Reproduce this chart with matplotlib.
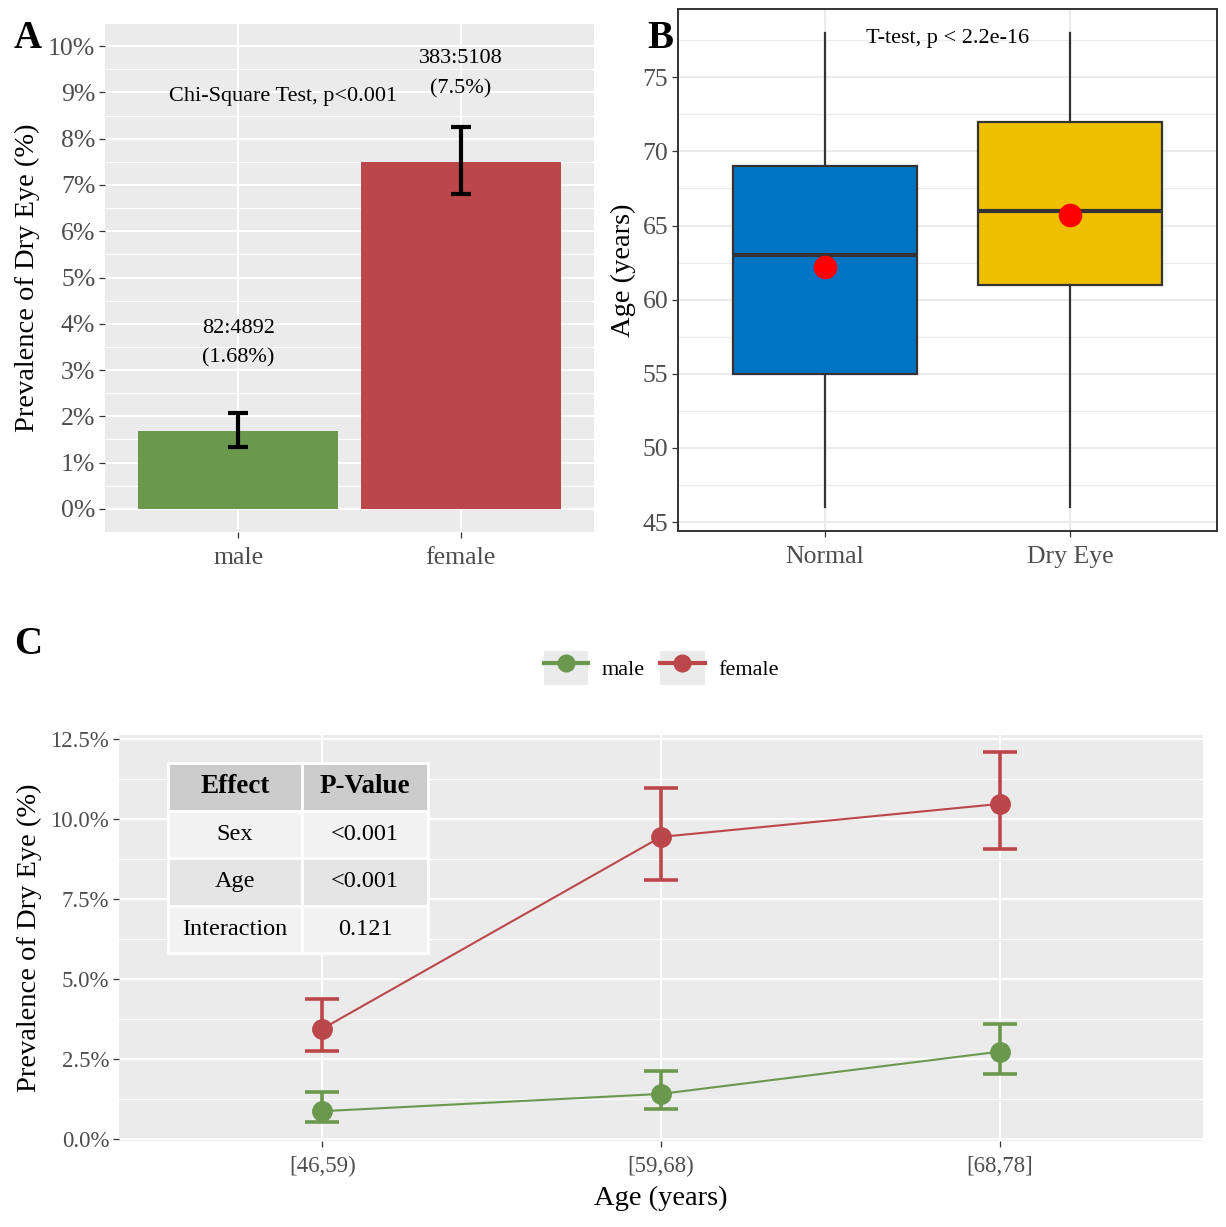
import numpy as np
import matplotlib
matplotlib.use("Agg")
import matplotlib.pyplot as plt
from matplotlib.lines import Line2D
from matplotlib.patches import Rectangle
from matplotlib.legend_handler import HandlerTuple
from matplotlib.ticker import FuncFormatter, MultipleLocator

plt.rcParams["font.family"] = ["Liberation Serif", "DejaVu Serif"]

# --- data -------------------------------------------------------------
# panel A: prevalence by sex
sex = ["male", "female"]
sex_prev = [1.68, 7.5]
sex_lo = [1.34, 6.80]
sex_hi = [2.07, 8.26]
sex_counts = ["82:4892", "383:5108"]
sex_pct = ["(1.68%)", "(7.5%)"]

# panel B: age distribution
groups = ["Normal", "Dry Eye"]
age_q1 = [55, 61]
age_med = [63, 66]
age_q3 = [69, 72]
age_min = [46, 46]
age_max = [78, 78]
age_mean = [62.2, 65.7]

# panel C: prevalence by age group and sex
age_bins = ["[46,59)", "[59,68)", "[68,78]"]
male_prev = [0.87, 1.41, 2.73]
male_lo = [0.52, 0.95, 2.02]
male_hi = [1.47, 2.14, 3.60]
female_prev = [3.44, 9.43, 10.46]
female_lo = [2.74, 8.09, 9.06]
female_hi = [4.37, 10.95, 12.08]

effects = ["Sex", "Age", "Interaction"]
pvalues = ["<0.001", "<0.001", "0.121"]

GREEN = "#6A994E"
RED = "#BC474A"
BLUE = "#0073C2"
YELLOW = "#EFC000"
TICK = "#333333"
TICKLAB = "#4D4D4D"

W, H = 1226, 1227
fig = plt.figure(figsize=(W / 100, H / 100), dpi=100)


def px_axes(left, top, right, bottom):
    return fig.add_axes([left / W, 1 - bottom / H, (right - left) / W, (bottom - top) / H])


def gg_ticks(ax, size):
    ax.tick_params(which="major", direction="out", length=4, width=0.9,
                   color=TICK, labelcolor=TICKLAB, labelsize=size, pad=3)
    ax.tick_params(axis="x", which="major", pad=7)
    ax.tick_params(which="minor", length=0)


def err(vals, lo, hi):
    vals = np.asarray(vals)
    return [vals - np.asarray(lo), np.asarray(hi) - vals]


# --- panel A ----------------------------------------------------------
axA = px_axes(105, 23, 594, 532)
axA.set_facecolor("#EBEBEB")
xa = np.arange(1, len(sex) + 1)
axA.bar(xa, sex_prev, width=0.9, color=[GREEN, RED], zorder=2)
axA.errorbar(xa, sex_prev, yerr=err(sex_prev, sex_lo, sex_hi), fmt="none",
             ecolor="black", elinewidth=3, capsize=7.5, capthick=3, zorder=3)
for x, v, c, p in zip(xa, sex_prev, sex_counts, sex_pct):
    axA.text(x, v + 1.9, f"{c}\n{p}", ha="center", va="center", fontsize=16,
             linespacing=1.75)
axA.text(1.2, 8.92, "Chi-Square Test, p<0.001", ha="center", va="center", fontsize=16)
axA.set_xlim(0.4, 2.6)
axA.set_ylim(-0.5, 10.5)
axA.set_xticks(xa, sex)
axA.yaxis.set_major_locator(MultipleLocator(1))
axA.yaxis.set_minor_locator(MultipleLocator(0.5))
axA.yaxis.set_major_formatter(FuncFormatter(lambda v, _: f"{v:.0f}%"))
axA.grid(which="major", color="white", lw=1.5)
axA.grid(which="minor", axis="y", color="white", lw=0.8)
axA.set_axisbelow(True)
for s in axA.spines.values():
    s.set_visible(False)
gg_ticks(axA, 18.5)
axA.set_ylabel("Prevalence of Dry Eye (%)", fontsize=20.5, labelpad=6)

# --- panel B ----------------------------------------------------------
axB = px_axes(678, 9, 1217, 531)
xb = np.arange(1, len(groups) + 1)
stats = [dict(med=m, q1=a, q3=b, whislo=lo, whishi=hi, fliers=[])
         for m, a, b, lo, hi in zip(age_med, age_q1, age_q3, age_min, age_max)]
bp = axB.bxp(stats, positions=xb, widths=0.75, patch_artist=True, showcaps=False,
             boxprops=dict(edgecolor="#333333", lw=1.6),
             medianprops=dict(color="#333333", lw=3),
             whiskerprops=dict(color="#333333", lw=1.6))
for patch, c in zip(bp["boxes"], [BLUE, YELLOW]):
    patch.set_facecolor(c)
axB.plot(xb, age_mean, "o", color="red", ms=16, zorder=4)
axB.text(1.5, 77.6, "T-test, p < 2.2e-16", ha="center", va="center", fontsize=16)
axB.set_xlim(0.4, 2.6)
axB.set_ylim(44.4, 79.6)
axB.set_xticks(xb, groups)
axB.yaxis.set_major_locator(MultipleLocator(5))
axB.yaxis.set_minor_locator(MultipleLocator(2.5))
axB.grid(which="major", color="#EBEBEB", lw=1.5)
axB.grid(which="minor", axis="y", color="#EBEBEB", lw=0.8)
axB.set_axisbelow(True)
for s in axB.spines.values():
    s.set_color("#333333")
    s.set_linewidth(1.4)
gg_ticks(axB, 18.5)
axB.set_ylabel("Age (years)", fontsize=20.5, labelpad=5)

# --- panel C ----------------------------------------------------------
axC = px_axes(119, 735, 1203, 1141)
axC.set_facecolor("#EBEBEB")
xc = np.arange(1, len(age_bins) + 1)
for vals, lo, hi, color in [(male_prev, male_lo, male_hi, GREEN),
                            (female_prev, female_lo, female_hi, RED)]:
    axC.errorbar(xc, vals, yerr=err(vals, lo, hi), fmt="none", ecolor=color,
                 elinewidth=2.6, capsize=12, capthick=2.6, zorder=3)
    axC.plot(xc, vals, color=color, lw=1.5, zorder=3)
    axC.plot(xc, vals, "o", color=color, ms=14, zorder=4)
axC.set_xlim(0.4, 3.6)
axC.set_ylim(-0.06, 12.61)
axC.set_xticks(xc, age_bins)
axC.yaxis.set_major_locator(MultipleLocator(2.5))
axC.yaxis.set_minor_locator(MultipleLocator(1.25))
axC.yaxis.set_major_formatter(FuncFormatter(lambda v, _: f"{v:.1f}%"))
axC.grid(which="major", color="white", lw=1.5)
axC.grid(which="minor", axis="y", color="white", lw=0.8)
axC.set_axisbelow(True)
for s in axC.spines.values():
    s.set_visible(False)
gg_ticks(axC, 16.5)
axC.set_ylabel("Prevalence of Dry Eye (%)", fontsize=20.5, labelpad=6)
axC.set_xlabel("Age (years)", fontsize=20.5, labelpad=6)

tbl = axC.table(cellText=[list(r) for r in zip(effects, pvalues)],
                colLabels=["Effect", "P-Value"], cellLoc="center",
                colWidths=[0.515, 0.485], bbox=[0.0452, 0.463, 0.2399, 0.468])
tbl.auto_set_font_size(False)
tbl.set_zorder(6)
for (r, c), cell in tbl.get_celld().items():
    cell.set_edgecolor("white")
    cell.set_linewidth(2)
    if r == 0:
        cell.set_facecolor("#CCCCCC")
        cell.get_text().set_fontsize(19.5)
        cell.get_text().set_fontweight("bold")
    else:
        cell.set_facecolor("#F2F2F2" if r % 2 == 1 else "#E5E5E5")
        cell.get_text().set_fontsize(17.5)

handles = []
for color in [GREEN, RED]:
    key_bg = Rectangle((0, 0), 1, 1, facecolor="#EBEBEB", edgecolor="none")
    key_ln = Line2D([], [], color=color, lw=3, marker="o", ms=12)
    handles.append((key_bg, key_ln))
axC.legend(handles, ["male", "female"],
           handler_map={tuple: HandlerTuple(ndivide=1, pad=0)},
           loc="center", bbox_to_anchor=(0.5, 1.165), ncol=2, frameon=False,
           fontsize=16, handlelength=2.0, handleheight=2.0, handletextpad=0.6,
           columnspacing=0.7, borderaxespad=0, borderpad=0)

# panel letters
for lab, x, y in [("A", 28, 38), ("B", 660, 38), ("C", 28, 645)]:
    fig.text(x / W, 1 - y / H, lab, fontsize=28, fontweight="bold",
             ha="center", va="center")

fig.savefig("out.png", dpi=100)
